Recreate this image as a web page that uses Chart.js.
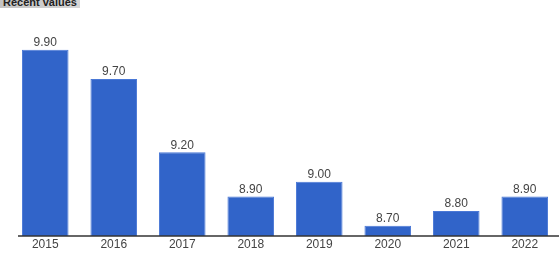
<!DOCTYPE html>
<html>
<head>
<meta charset="utf-8">
<script src="https://cdn.jsdelivr.net/npm/chart.js@4"></script>
<style>
  html, body { margin: 0; padding: 0; background: #fff; overflow: hidden; }
  #wrap { position: relative; width: 559px; height: 276px; }
  #title {
    position: absolute; left: 0; top: -4px; padding: 0 3px 0 3px; line-height: 12px;
    background: linear-gradient(to right, #c4c4c4, #d6d6d6);
    font: bold 11px "Liberation Sans", Arial, sans-serif; color: #222;
  }
</style>
</head>
<body>
<div id="wrap">
  <canvas id="myChart" width="559" height="276"></canvas>
  <div id="title">Recent values</div>
</div>
<script>
var years = ["2015", "2016", "2017", "2018", "2019", "2020", "2021", "2022"];
var values = [9.90, 9.70, 9.20, 8.90, 9.00, 8.70, 8.80, 8.90];
var yMin = 8.63, yMax = 10.0;

var barLabels = {
    id: 'barLabels',
    afterDatasetsDraw: function(chart){
        var ctx = chart.ctx;
        var meta = chart.getDatasetMeta(0);
        ctx.save();
        ctx.font = '12px "Liberation Sans", Arial, sans-serif';
        ctx.fillStyle = '#444';
        ctx.textAlign = 'center';
        ctx.textBaseline = 'bottom';
        meta.data.forEach(function(bar, i){
            ctx.fillText(values[i].toFixed(2), bar.x, bar.y - 1);
        });
        ctx.restore();
    }
};

var baseLine = {
    id: 'baseLine',
    afterDatasetsDraw: function(chart){
        var ctx = chart.ctx;
        var y = chart.scales.y.getPixelForValue(yMin);
        ctx.save();
        ctx.strokeStyle = '#333';
        ctx.lineWidth = 1.5;
        ctx.beginPath();
        ctx.moveTo(18, y);
        ctx.lineTo(559, y);
        ctx.stroke();
        ctx.restore();
    }
};

var context = document.getElementById('myChart');
var chart = new Chart(context, {
    type: 'bar',
    data: {
        labels: years,
        datasets: [{
            data: values,
            backgroundColor: '#3164c9',
            borderColor: '#4a78d6',
            borderWidth: 1,
            categoryPercentage: 1.0,
            barPercentage: 0.68
        }]
    },
    options: {
        responsive: false,
        animation: false,
        layout: { padding: { left: 11, right: 0, top: 35, bottom: 0 } },
        plugins: { legend: { display: false }, tooltip: { enabled: false } },
        scales: {
            x: {
                grid: { display: false, drawTicks: false },
                border: { display: false },
                ticks: {
                    color: '#444',
                    padding: 1,
                    font: { family: '"Liberation Sans", Arial, sans-serif', size: 12 }
                },
                afterFit: function(scale){ scale.height = 40; }
            },
            y: {
                display: false,
                min: yMin,
                max: yMax
            }
        }
    },
    plugins: [barLabels, baseLine]
});
</script>
</body>
</html>
